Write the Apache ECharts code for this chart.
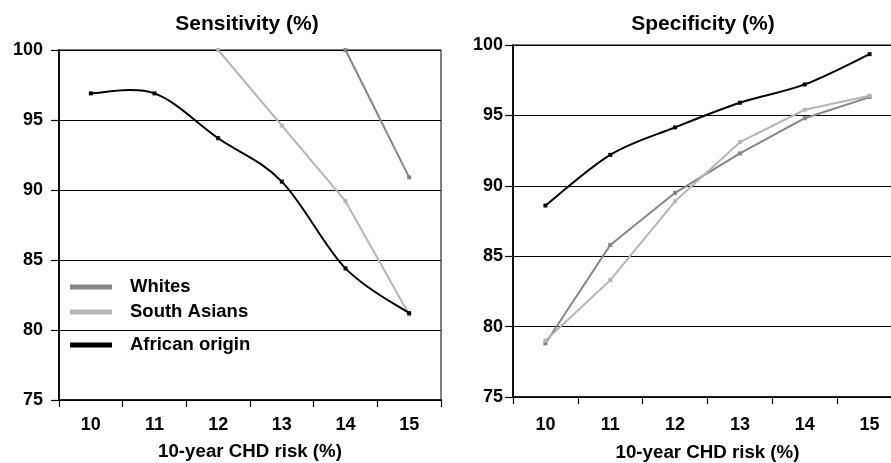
<!DOCTYPE html>
<html>
<head>
<meta charset="utf-8">
<script src="https://cdn.jsdelivr.net/npm/echarts@6/dist/echarts.min.js"></script>
<style>
html,body{margin:0;padding:0;background:#fff;}
#chart{width:891px;height:463px;}
</style>
</head>
<body>
<div id="chart"></div>
<script>
// ---- data ----
const categories = ['10', '11', '12', '13', '14', '15'];
const yTicks = [75, 80, 85, 90, 95, 100];
// Sensitivity (%)
const sensWhites = [null, null, null, null, 100, 90.9];
const sensSouthAsians = [null, null, 100, 94.6, 89.2, 81.1];
const sensAfrican = [96.9, 96.9, 93.7, 90.6, 84.4, 81.2];
// Specificity (%)
const specWhites = [78.8, 85.8, 89.5, 92.3, 94.8, 96.3];
const specSouthAsians = [79.0, 83.3, 88.9, 93.1, 95.4, 96.4];
const specAfrican = [88.6, 92.2, 94.15, 95.9, 97.2, 99.35];

const FONT = '"Liberation Sans", Arial, Helvetica, sans-serif';
const C_WHITES = '#858585';
const C_SA = '#b5b5b5';
const C_AF = '#000000';

const chart = echarts.init(document.getElementById('chart'), null, {renderer: 'canvas'});

function xAxisDef(gridIndex, labelMargin, nameGap) {
  return {
    type: 'category', gridIndex, data: categories, boundaryGap: true,
    axisLine: {show: true, lineStyle: {color: '#000', width: 1.5}},
    axisTick: {show: true, length: 7, lineStyle: {color: '#000', width: 1.2}},
    axisLabel: {margin: labelMargin, fontSize: 18, fontWeight: 'bold', color: '#000', fontFamily: FONT},
    name: '10-year CHD risk (%)', nameLocation: 'middle', nameGap,
    nameTextStyle: {fontSize: 18.7, fontWeight: 'bold', color: '#000', fontFamily: FONT},
    splitLine: {show: false}
  };
}
function yAxisDef(gridIndex, labelMargin) {
  return {
    type: 'value', gridIndex, min: yTicks[0], max: yTicks[yTicks.length - 1], interval: 5,
    axisLine: {show: true, lineStyle: {color: '#000', width: 1.8}},
    axisTick: {show: true, length: 8, lineStyle: {color: '#000', width: 1.2}},
    axisLabel: {margin: labelMargin, fontSize: 18, fontWeight: 'bold', color: '#000', fontFamily: FONT},
    splitLine: {show: true, lineStyle: {color: '#000', width: 1}}
  };
}
function lineSeries(name, data, color, xi) {
  return {
    type: 'line', name, data, color, xAxisIndex: xi, yAxisIndex: xi,
    smooth: false,
    symbol: 'rect', symbolSize: 4, showSymbol: true,
    lineStyle: {color, width: 2},
    itemStyle: {color},
    connectNulls: false,
    emphasis: {disabled: true},
    z: 3
  };
}
// Smoothed curve (Bezier through the data points, Excel-like), positioned via the axes' scales
function smoothSeries(name, values, color, xi) {
  const n = values.length;
  return {
    type: 'custom', name, color, xAxisIndex: xi, yAxisIndex: xi,
    itemStyle: {color},
    data: values.map((v, i) => [i, v]),
    encode: {x: 0, y: 1},
    z: 4, clip: false,
    renderItem: function (params, api) {
      const i = params.dataIndex;
      const pt = k => { const kk = Math.max(0, Math.min(n - 1, k)); return api.coord([kk, values[kk]]); };
      const p1 = pt(i);
      const children = [];
      if (i < n - 1) {
        const p0 = pt(i - 1), p2 = pt(i + 1), p3 = pt(i + 2);
        const c1 = [p1[0] + (p2[0] - p0[0]) / 6, p1[1] + (p2[1] - p0[1]) / 6];
        const c2 = [p2[0] - (p3[0] - p1[0]) / 6, p2[1] - (p3[1] - p1[1]) / 6];
        children.push({
          type: 'bezierCurve',
          shape: {x1: p1[0], y1: p1[1], x2: p2[0], y2: p2[1], cpx1: c1[0], cpy1: c1[1], cpx2: c2[0], cpy2: c2[1]},
          style: {stroke: color, lineWidth: 2, fill: null, lineCap: 'round'}
        });
      }
      children.push({type: 'rect', shape: {x: p1[0] - 2, y: p1[1] - 2, width: 4, height: 4}, style: {fill: color}});
      return {type: 'group', children};
    }
  };
}
function legendDef(name, top) {
  return {
    data: [name], left: 70, top, padding: 0, orient: 'vertical',
    icon: 'rect', itemWidth: 42, itemHeight: 5,
    textStyle: {fontSize: 18.5, fontWeight: 'bold', color: '#000', fontFamily: FONT, lineHeight: 20, padding: [0, 0, 0, 13]},
    selectedMode: false
  };
}

chart.setOption({
  animation: false,
  backgroundColor: '#fff',
  title: [
    {text: 'Sensitivity (%)', left: 247, top: 13.5, textAlign: 'center', padding: 0,
     textStyle: {fontSize: 21, fontWeight: 'bold', color: '#000', fontFamily: FONT}},
    {text: 'Specificity (%)', left: 703, top: 13.5, textAlign: 'center', padding: 0,
     textStyle: {fontSize: 21, fontWeight: 'bold', color: '#000', fontFamily: FONT}}
  ],
  legend: [
    legendDef('Whites', 277),
    legendDef('South Asians', 302),
    legendDef('African origin', 335)
  ],
  grid: [
    {left: 59, top: 50, width: 382, height: 350, show: true, borderColor: '#000', borderWidth: 1,
     backgroundColor: 'transparent', containLabel: false, outerBoundsMode: 'none'},
    {left: 513, top: 45, width: 389, height: 352, show: true, borderColor: '#000', borderWidth: 1,
     backgroundColor: 'transparent', containLabel: false, outerBoundsMode: 'none'}
  ],
  xAxis: [xAxisDef(0, 16, 42), xAxisDef(1, 19, 46)],
  yAxis: [yAxisDef(0, 16), yAxisDef(1, 10)],
  series: [
    lineSeries('Whites', sensWhites, C_WHITES, 0),
    lineSeries('South Asians', sensSouthAsians, C_SA, 0),
    smoothSeries('African origin', sensAfrican, C_AF, 0),
    lineSeries('Whites', specWhites, C_WHITES, 1),
    lineSeries('South Asians', specSouthAsians, C_SA, 1),
    smoothSeries('African origin', specAfrican, C_AF, 1)
  ]
});
</script>
</body>
</html>
